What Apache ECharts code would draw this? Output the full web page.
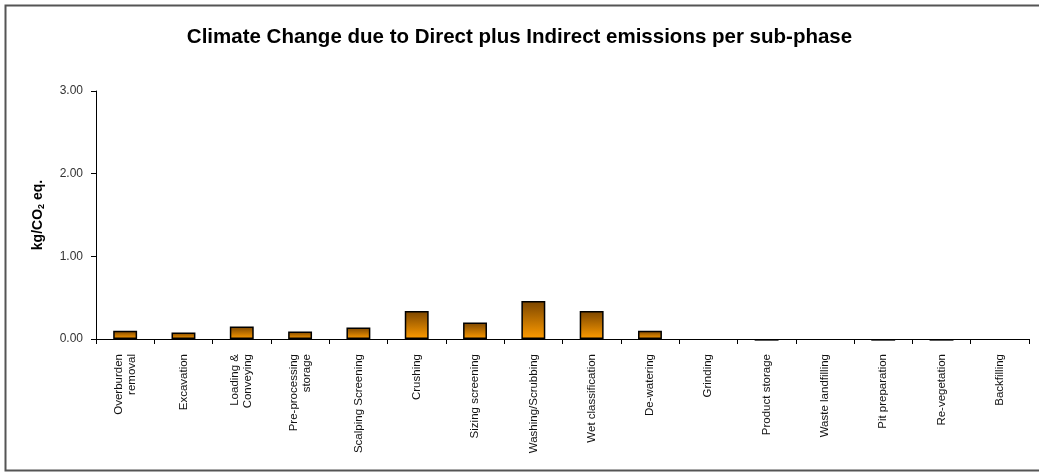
<!DOCTYPE html>
<html>
<head>
<meta charset="utf-8">
<script src="https://cdn.jsdelivr.net/npm/echarts@6/dist/echarts.min.js"></script>
<style>html,body{margin:0;padding:0;background:#fff}#c{width:1039px;height:472px}</style>
</head>
<body>
<div id="c"></div>
<script>
const categories = ["Overburden\nremoval","Excavation","Loading &\nConveying","Pre-processing\nstorage","Scalping Screening","Crushing","Sizing screening","Washing/Scrubbing","Wet classification","De-watering","Grinding","Product storage","Waste landfilling","Pit preparation","Re-vegetation","Backfilling"];
const values = [0.10,0.08,0.15,0.09,0.14,0.34,0.20,0.46,0.34,0.10,null,-0.02,null,-0.02,-0.02,null];
const yTicks = [0,1,2,3];

const chart = echarts.init(document.getElementById('c'), null, {renderer:'canvas'});
chart.setOption({
  backgroundColor:'#fff',
  animation:false,
  title:{
    text:'Climate Change due to Direct plus Indirect emissions per sub-phase',
    left:'center', top:22,
    textStyle:{fontFamily:'Liberation Sans, Arial, sans-serif', fontWeight:'bold', fontSize:20.5, color:'#000'}
  },
  graphic:[{type:'rect', shape:{x:5.5,y:5.5,width:1040,height:465}, style:{fill:'none', stroke:'#555', lineWidth:2}, silent:true}],
  grid:{left:96, right:10, top:91, bottom:133, containLabel:false},
  xAxis:{
    type:'category', data:categories,
    axisLine:{lineStyle:{color:'#000', width:1}},
    axisTick:{show:true, length:5, lineStyle:{color:'#000'}},
    axisLabel:{rotate:90, interval:0, margin:15, color:'#111', fontSize:11.5, fontFamily:'Liberation Sans, Arial, sans-serif', lineHeight:13}
  },
  yAxis:{
    type:'value', min:yTicks[0], max:yTicks[yTicks.length-1], interval:1,
    name:'{a|kg/CO}{s|2}{a| eq.}', nameLocation:'middle', nameGap:50,
    nameTextStyle:{rich:{
      a:{fontFamily:'Liberation Sans, Arial, sans-serif', fontWeight:'bold', fontSize:14, color:'#000'},
      s:{fontFamily:'Liberation Sans, Arial, sans-serif', fontWeight:'bold', fontSize:9, color:'#000', padding:[7,0,0,0]}
    }},
    splitLine:{show:false},
    axisLine:{show:true, lineStyle:{color:'#000', width:1}},
    axisTick:{show:true, length:5, lineStyle:{color:'#000'}},
    axisLabel:{formatter:v=>v.toFixed(2), color:'#333', fontSize:12, margin:13, fontFamily:'Liberation Sans, Arial, sans-serif'}
  },
  series:[{
    type:'bar', data:values, barWidth:'41%', clip:false,
    itemStyle:{
      borderColor:'#000', borderWidth:1.5,
      color:new echarts.graphic.LinearGradient(0,0,0,1,[{offset:0,color:'#7a4500'},{offset:1,color:'#ff9c00'}])
    }
  }]
});
</script>
</body>
</html>
